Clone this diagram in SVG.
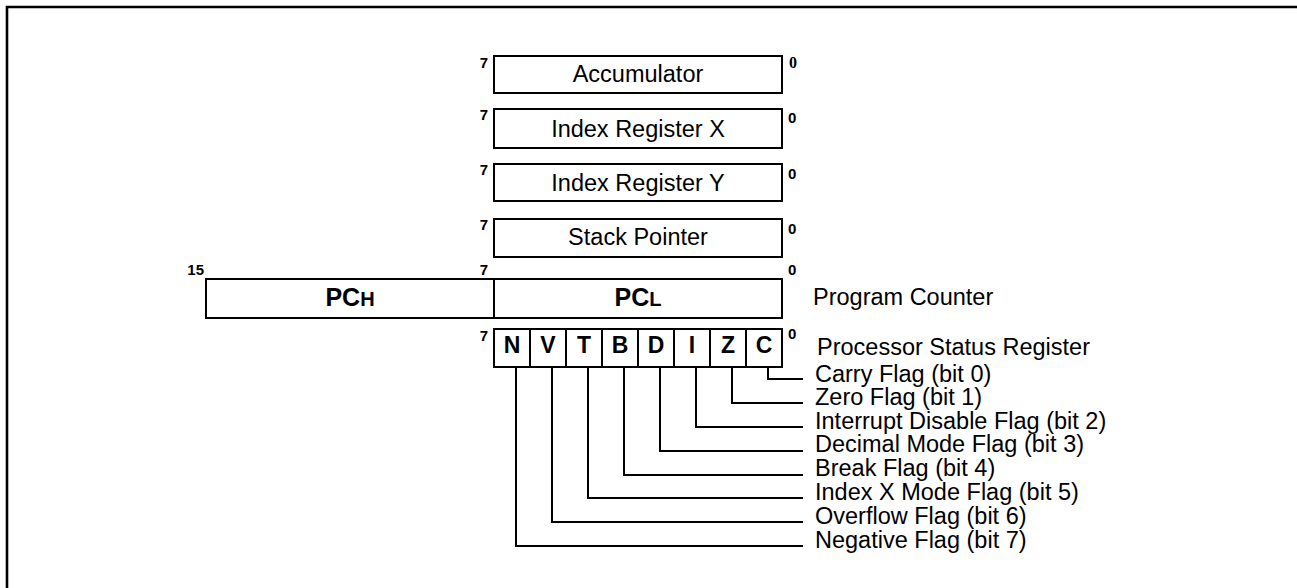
<svg xmlns="http://www.w3.org/2000/svg" width="1297" height="588" viewBox="0 0 1297 588">
<style>
.box{fill:#fff;stroke:#000;stroke-width:2}
.lbl{font-family:"Liberation Sans",Arial,sans-serif;font-size:23.5px;fill:#000}
.bit{font-family:"Liberation Sans",Arial,sans-serif;font-size:15px;font-weight:bold;fill:#000}
.bits{font-family:"Liberation Serif","Times New Roman",serif;font-size:16px;font-weight:bold;fill:#000}
.flag{font-family:"Liberation Sans",Arial,sans-serif;font-size:23px;font-weight:bold;fill:#000;text-anchor:middle}
.pc{font-family:"Liberation Sans",Arial,sans-serif;font-weight:bold;fill:#000;text-anchor:middle}
.wire{fill:none;stroke:#000;stroke-width:2}
</style>
<rect width="1297" height="588" fill="#fff"/>
<path d="M7,588 V7 H1297" fill="none" stroke="#000" stroke-width="2.6"/>

<g id="accumulator">
<rect class="box" x="494" y="56" width="288" height="37"/>
<text class="lbl" x="638" y="82" text-anchor="middle">Accumulator</text>
<text class="bit" x="488" y="68" text-anchor="end">7</text>
<text class="bits" x="789" y="68">0</text>
</g>
<g id="index-x">
<rect class="box" x="494" y="109" width="288" height="39"/>
<text class="lbl" x="638" y="137" text-anchor="middle">Index Register X</text>
<text class="bit" x="488" y="120" text-anchor="end">7</text>
<text class="bit" x="788" y="123">0</text>
</g>
<g id="index-y">
<rect class="box" x="494" y="164" width="288" height="37"/>
<text class="lbl" x="638" y="191" text-anchor="middle">Index Register Y</text>
<text class="bit" x="488" y="175" text-anchor="end">7</text>
<text class="bit" x="788" y="179">0</text>
</g>
<g id="stack-pointer">
<rect class="box" x="494" y="219" width="288" height="38"/>
<text class="lbl" x="638" y="245" text-anchor="middle">Stack Pointer</text>
<text class="bit" x="488" y="230" text-anchor="end">7</text>
<text class="bit" x="788" y="234">0</text>
</g>
<g id="program-counter">
<rect class="box" x="206" y="279" width="576" height="39"/>
<line x1="494" y1="279" x2="494" y2="318" stroke="#000" stroke-width="2"/>
<text class="pc" x="350" y="306"><tspan font-size="25">PC</tspan><tspan font-size="20">H</tspan></text>
<text class="pc" x="638" y="306"><tspan font-size="25">PC</tspan><tspan font-size="20">L</tspan></text>
<text class="bit" x="204" y="275" text-anchor="end">15</text>
<text class="bit" x="488" y="275" text-anchor="end">7</text>
<text class="bit" x="788" y="275">0</text>
<text class="lbl" x="813" y="305">Program Counter</text>
</g>
<g id="status-register">
<rect class="box" x="494" y="329" width="288" height="38"/>
<path d="M530,329V367M566,329V367M602,329V367M638,329V367M674,329V367M710,329V367M746,329V367" stroke="#000" stroke-width="2"/>
<text class="flag" x="512" y="353">N</text>
<text class="flag" x="548" y="353">V</text>
<text class="flag" x="584" y="353">T</text>
<text class="flag" x="620" y="353">B</text>
<text class="flag" x="656" y="353">D</text>
<text class="flag" x="692" y="353">I</text>
<text class="flag" x="728" y="353">Z</text>
<text class="flag" x="764" y="353">C</text>
<text class="bit" x="488" y="341" text-anchor="end">7</text>
<text class="bit" x="788" y="339">0</text>
<text class="lbl" x="817" y="355">Processor Status Register</text>
</g>
<g id="flag-labels">
<text class="lbl" x="815" y="382">Carry Flag (bit 0)</text>
<text class="lbl" x="815" y="405">Zero Flag (bit 1)</text>
<text class="lbl" x="815" y="429">Interrupt Disable Flag (bit 2)</text>
<text class="lbl" x="815" y="452">Decimal Mode Flag (bit 3)</text>
<text class="lbl" x="815" y="476">Break Flag (bit 4)</text>
<text class="lbl" x="815" y="500">Index X Mode Flag (bit 5)</text>
<text class="lbl" x="815" y="524">Overflow Flag (bit 6)</text>
<text class="lbl" x="815" y="548">Negative Flag (bit 7)</text>
</g>
<g id="connectors" class="wire">
<path class="wire" d="M768,367V379H803"/>
<path class="wire" d="M732,367V403H803"/>
<path class="wire" d="M696,367V427H803"/>
<path class="wire" d="M660,367V451H803"/>
<path class="wire" d="M624,367V475H803"/>
<path class="wire" d="M588,367V498H803"/>
<path class="wire" d="M552,367V522H803"/>
<path class="wire" d="M516,367V546H803"/>
</g>
</svg>
